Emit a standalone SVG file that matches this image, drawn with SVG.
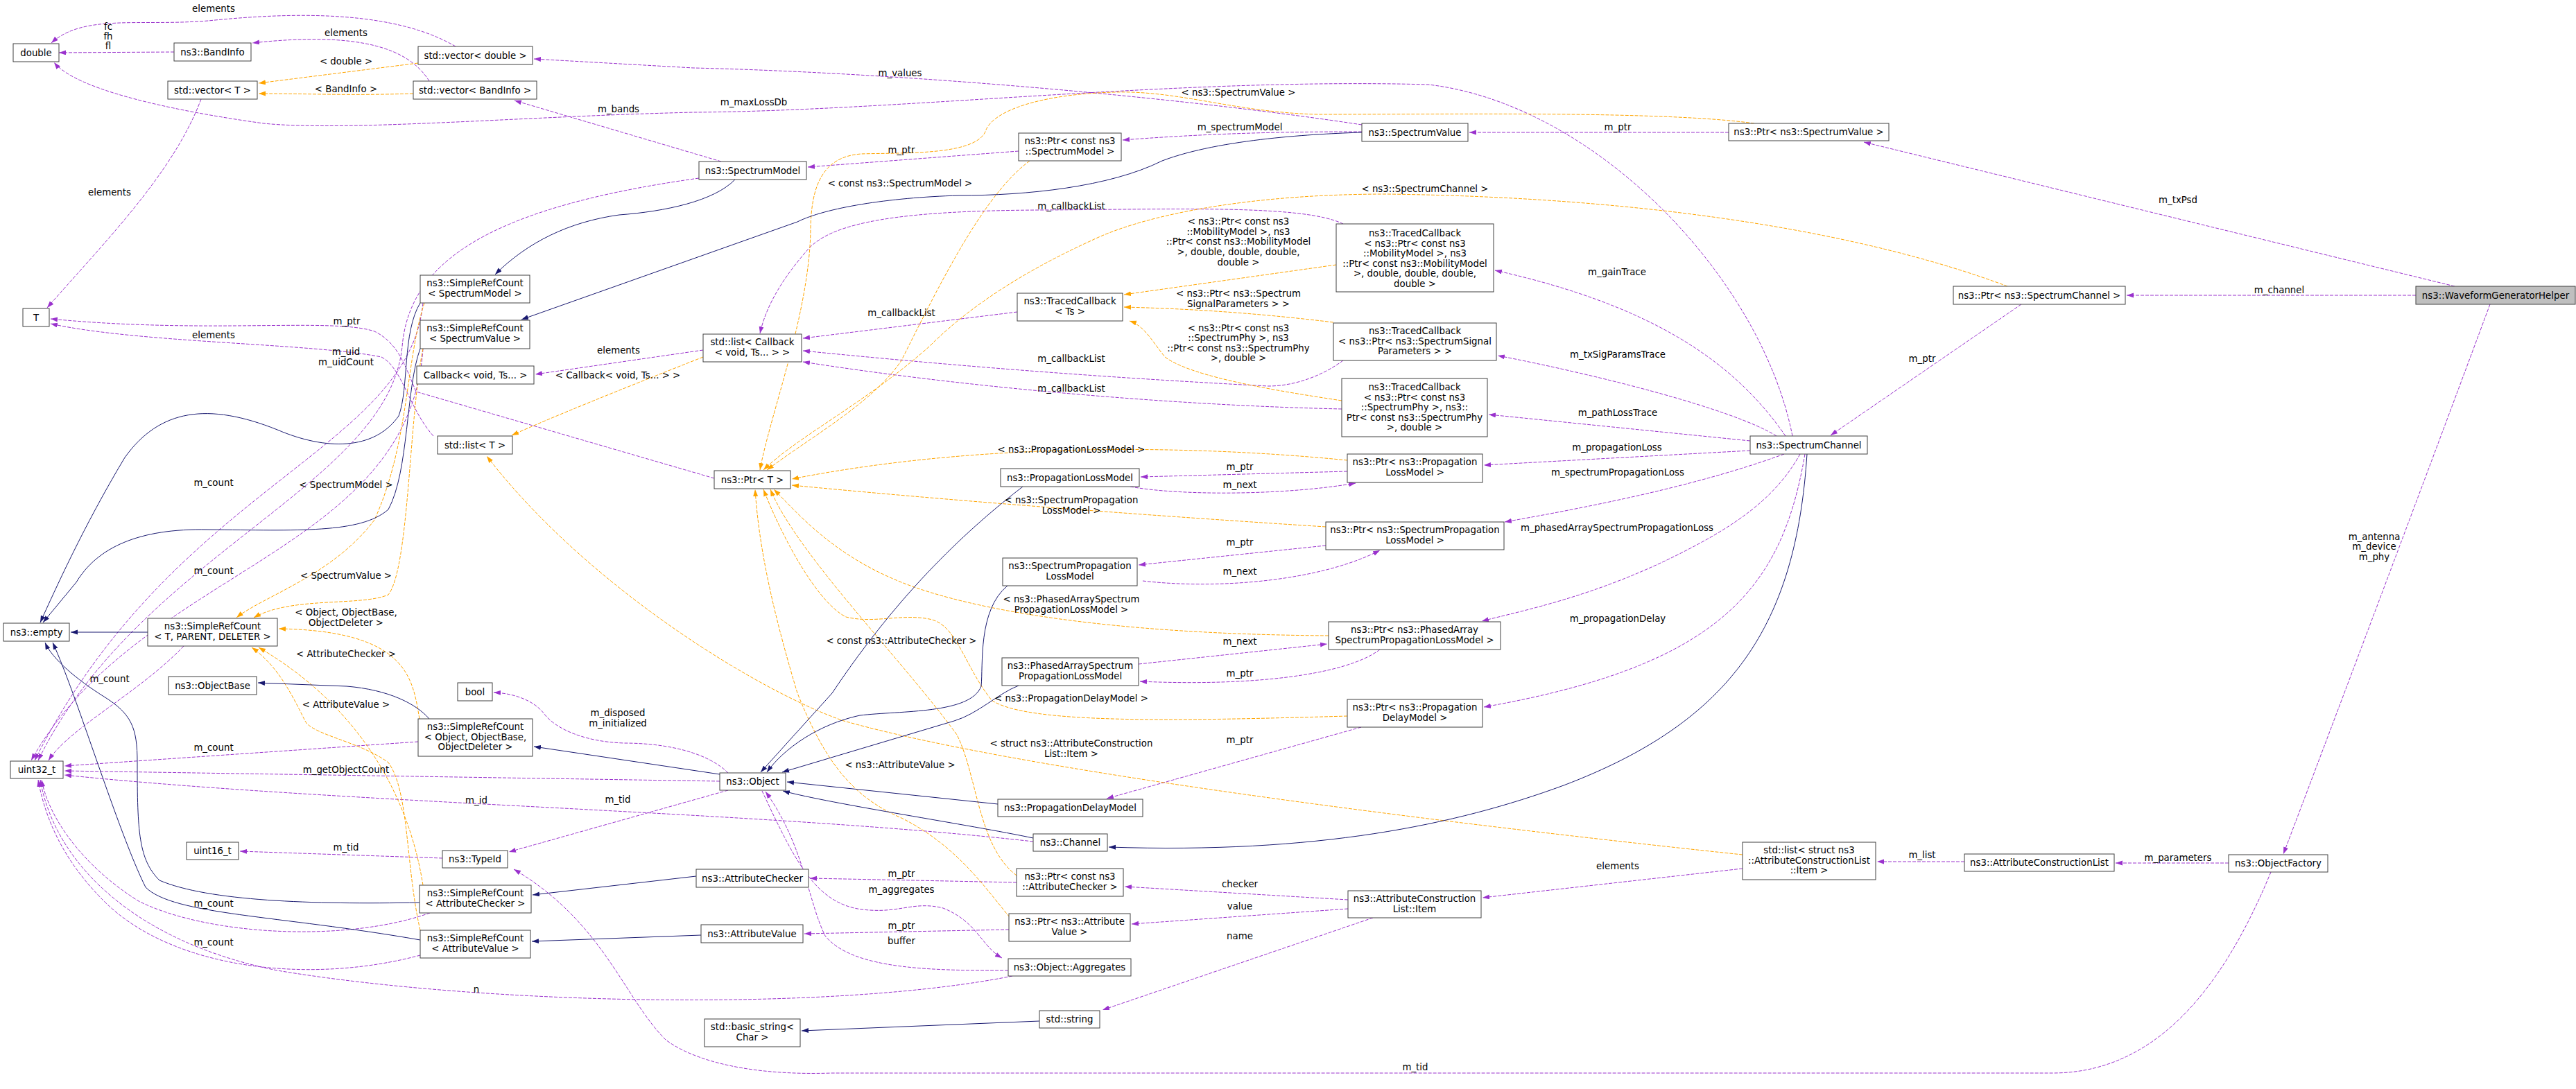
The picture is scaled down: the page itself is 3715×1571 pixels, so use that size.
<svg xmlns="http://www.w3.org/2000/svg" width="3715" height="1571" viewBox="0 0 3715 1571">
<style>
text{font-family:"DejaVu Sans","Liberation Sans",sans-serif;font-size:13.33px;fill:#000;text-anchor:middle}
.node rect{fill:#fff;stroke:#404040;stroke-width:1}
.p{fill:none;stroke:#9a32cd;stroke-dasharray:5,2;marker-end:url(#ap)}
.o{fill:none;stroke:#ffa500;stroke-dasharray:5,2;marker-end:url(#ao)}
.b{fill:none;stroke:#191970;marker-end:url(#ab)}
</style>
<defs>
<marker id="ap" markerUnits="userSpaceOnUse" markerWidth="11" markerHeight="8" refX="10" refY="3.5" orient="auto"><path d="M0,0L10,3.5L0,7z" fill="#9a32cd"/></marker>
<marker id="ao" markerUnits="userSpaceOnUse" markerWidth="11" markerHeight="8" refX="10" refY="3.5" orient="auto"><path d="M0,0L10,3.5L0,7z" fill="#ffa500"/></marker>
<marker id="ab" markerUnits="userSpaceOnUse" markerWidth="11" markerHeight="8" refX="10" refY="3.5" orient="auto"><path d="M0,0L10,3.5L0,7z" fill="#191970"/></marker>
</defs>
<rect width="3715" height="1571" fill="#fff"/>
<g id="connectors">
<path class="p" d="M251,75L85,76"/>
<path class="p" d="M657,67C560,10 400,20 300,30C200,38 120,20 74,62"/>
<path class="p" d="M2585,629C2540,400 2300,150 2060,122C1700,112 1300,160 1000,162C750,168 500,190 380,178C250,160 110,130 78,90"/>
<path class="p" d="M1964,180C1700,140 1300,105 1000,98L770,85"/>
<path class="p" d="M619,117C590,70 520,45 364,62"/>
<path class="p" d="M1040,233L742,145"/>
<path class="p" d="M290,143C250,250 150,350 68,444"/>
<path class="p" d="M1030,690L600,565C585,530 575,495 540,478C480,458 300,482 73,460"/>
<path class="p" d="M625,629C590,590 580,530 550,515C450,495 200,495 73,467"/>
<path class="p" d="M1008,257C700,300 590,380 580,500C560,700 200,800 55,1097"/>
<path class="p" d="M1014,505L772,540"/>
<path class="p" d="M610,437C590,650 250,700 50,1097"/>
<path class="p" d="M610,503C590,800 200,820 45,1097"/>
<path class="p" d="M265,932C200,1000 100,1050 70,1097"/>
<path class="p" d="M603,1070L93,1105"/>
<path class="p" d="M1038,1127L93,1112"/>
<path class="p" d="M1490,1214C1100,1170 500,1160 93,1118"/>
<path class="p" d="M1050,1140L734,1229"/>
<path class="p" d="M638,1238L346,1228"/>
<path class="p" d="M620,1317C500,1360 300,1350 200,1300C120,1250 70,1180 60,1125"/>
<path class="p" d="M606,1378C450,1420 250,1400 150,1300C90,1240 65,1180 55,1125"/>
<path class="p" d="M1460,1408C1200,1460 700,1450 400,1400C200,1360 80,1250 58,1125"/>
<path class="p" d="M1050,1115C1020,1085 960,1072 900,1072C840,1070 800,1050 785,1030C770,1010 740,1000 712,999"/>
<path class="p" d="M3275,1258C3200,1440 3100,1548 2960,1548L1200,1548C1080,1552 1000,1530 960,1500C900,1440 870,1330 741,1254"/>
<path class="p" d="M1937,323C1880,295 1700,302 1500,303C1300,304 1200,320 1165,360C1130,400 1105,440 1096,481"/>
<path class="p" d="M1467,450L1158,488"/>
<path class="p" d="M1937,520C1910,540 1870,557 1829,557C1600,545 1400,530 1158,506"/>
<path class="p" d="M1935,590C1700,585 1400,560 1158,522"/>
<path class="p" d="M1469,218L1165,241"/>
<path class="p" d="M1964,190C1850,190 1750,192 1619,202"/>
<path class="p" d="M2493,191L2119,191"/>
<path class="p" d="M2575,629C2500,520 2380,440 2156,390"/>
<path class="p" d="M2562,629C2500,590 2300,540 2160,513"/>
<path class="p" d="M2524,636L2147,598"/>
<path class="p" d="M2524,650L2140,671"/>
<path class="p" d="M2573,655C2450,700 2300,730 2170,753"/>
<path class="p" d="M2596,655C2560,720 2500,760 2420,800C2300,860 2200,880 2137,896"/>
<path class="p" d="M2603,655C2570,850 2480,960 2140,1020"/>
<path class="p" d="M2915,439L2640,628"/>
<path class="p" d="M3540,413L2688,205"/>
<path class="p" d="M3484,426L3067,426"/>
<path class="p" d="M3591,439C3520,630 3400,950 3293,1232"/>
<path class="p" d="M3214,1245L3051,1245"/>
<path class="p" d="M2833,1243L2707,1243"/>
<path class="p" d="M2513,1253L2138,1295"/>
<path class="p" d="M1944,1298L1622,1279"/>
<path class="p" d="M1944,1311L1632,1333"/>
<path class="p" d="M1980,1324L1590,1457"/>
<path class="p" d="M1943,680L1645,688"/>
<path class="p" d="M1630,702C1700,715 1850,715 1955,697"/>
<path class="p" d="M1912,787L1642,815"/>
<path class="p" d="M1648,838C1750,850 1900,840 1990,794"/>
<path class="p" d="M1642,958L1914,929"/>
<path class="p" d="M1990,937C1940,975 1800,990 1644,983"/>
<path class="p" d="M1963,1049L1596,1152"/>
<path class="p" d="M1466,1273L1168,1267"/>
<path class="p" d="M1455,1341L1160,1347"/>
<path class="p" d="M1099,1141C1150,1250 1180,1310 1255,1313C1300,1316 1320,1300 1360,1310C1410,1330 1415,1365 1445,1382"/>
<path class="p" d="M1454,1400C1350,1400 1230,1400 1190,1350C1165,1300 1160,1220 1104,1142"/>
<path class="o" d="M603,91L373,120"/>
<path class="o" d="M596,135C500,138 450,135 373,135"/>
<path class="o" d="M1014,515C900,560 800,600 738,628"/>
<path class="o" d="M2513,1233C2200,1200 1500,1120 1217,1040C1100,1000 850,850 702,658"/>
<path class="o" d="M612,437C585,520 590,640 540,750C480,830 380,860 341,891"/>
<path class="o" d="M610,503C590,600 590,820 560,858C520,875 420,860 366,891"/>
<path class="o" d="M605,1037C595,980 590,910 402,907"/>
<path class="o" d="M610,1277C590,1150 520,1020 373,934"/>
<path class="o" d="M606,1342C585,1250 590,1140 560,1100C520,1070 450,1060 440,1040C420,1000 400,960 363,934"/>
<path class="o" d="M1927,382L1621,425"/>
<path class="o" d="M1923,465C1800,450 1700,445 1621,443"/>
<path class="o" d="M1935,578C1850,565 1720,545 1680,515C1660,490 1650,470 1629,463"/>
<path class="o" d="M2530,178C2400,160 2100,165 1900,165C1780,162 1700,130 1606,133C1500,136 1430,160 1421,190C1405,225 1300,220 1242,222C1185,226 1170,270 1169,330C1168,450 1110,600 1096,678"/>
<path class="o" d="M1485,232C1420,280 1360,400 1300,520C1260,580 1170,630 1106,678"/>
<path class="o" d="M2895,413C2700,340 2400,285 2000,280C1800,280 1650,310 1574,347C1480,390 1400,440 1340,500C1250,580 1150,630 1101,678"/>
<path class="o" d="M1943,664C1700,640 1400,640 1142,691"/>
<path class="o" d="M1912,760C1600,740 1350,720 1142,700"/>
<path class="o" d="M1916,917C1600,915 1400,880 1300,840C1200,800 1150,740 1116,706"/>
<path class="o" d="M1943,1033C1700,1040 1480,1045 1430,1010C1390,960 1380,900 1340,893C1300,885 1260,900 1220,890C1180,870 1130,780 1101,706"/>
<path class="o" d="M1466,1263C1410,1220 1410,1120 1380,1060C1300,950 1150,800 1111,706"/>
<path class="o" d="M1456,1323C1420,1280 1380,1220 1300,1180C1230,1150 1190,1100 1150,1000C1120,900 1095,800 1089,706"/>
<path class="b" d="M1060,259C1030,290 960,305 893,310C820,320 760,350 714,396"/>
<path class="b" d="M1964,191C1900,193 1760,200 1676,232C1600,270 1480,282 1383,282C1280,285 1190,300 1150,320L752,461"/>
<path class="b" d="M606,437C580,480 590,560 575,600C540,650 470,650 400,620C300,580 230,590 180,660C120,760 80,850 58,898"/>
<path class="b" d="M606,503C585,560 590,680 560,735C520,770 430,765 300,764C200,762 140,790 110,840L62,898"/>
<path class="b" d="M213,912L102,912"/>
<path class="b" d="M605,1302C450,1305 300,1300 230,1270C200,1240 198,1200 198,1100C198,1050 190,1030 150,1005C110,980 75,950 65,927"/>
<path class="b" d="M606,1356C400,1320 250,1320 210,1280C170,1200 110,1000 76,927"/>
<path class="b" d="M619,1037C600,1015 560,995 500,990L372,985"/>
<path class="b" d="M1038,1117L770,1077"/>
<path class="b" d="M1004,1264L768,1291"/>
<path class="b" d="M1011,1349L767,1358"/>
<path class="b" d="M1475,702C1400,760 1300,850 1200,1000L1097,1114"/>
<path class="b" d="M1453,845C1410,880 1418,960 1415,990C1400,1030 1300,1025 1240,1032C1180,1045 1130,1080 1106,1114"/>
<path class="b" d="M1469,989C1440,1000 1410,1030 1376,1040L1128,1114"/>
<path class="b" d="M1439,1160L1135,1128"/>
<path class="b" d="M1490,1209C1400,1190 1200,1160 1129,1141"/>
<path class="b" d="M2606,655C2590,900 2500,1040 2255,1133C2100,1190 1900,1232 1599,1222"/>
<path class="b" d="M1499,1473L1156,1487"/>
<g id="labels">
<text x="156" y="43">fc</text><text x="156" y="57">fh</text><text x="156" y="71">fl</text>
<text x="308" y="17">elements</text>
<text x="499" y="52">elements</text>
<text x="499" y="93">&lt; double &gt;</text>
<text x="499" y="133">&lt; BandInfo &gt;</text>
<text x="892" y="162">m_bands</text>
<text x="1087" y="152">m_maxLossDb</text>
<text x="1298" y="110">m_values</text>
<text x="158" y="282">elements</text>
<text x="500" y="468">m_ptr</text>
<text x="308" y="488">elements</text>
<text x="499" y="512">m_uid</text><text x="499" y="527">m_uidCount</text>
<text x="892" y="510">elements</text>
<text x="891" y="546">&lt; Callback&lt; void, Ts... &gt; &gt;</text>
<text x="308" y="701">m_count</text>
<text x="499" y="704">&lt; SpectrumModel &gt;</text>
<text x="308" y="828">m_count</text>
<text x="499" y="835">&lt; SpectrumValue &gt;</text>
<text x="499" y="888">&lt; Object, ObjectBase,</text><text x="499" y="903">ObjectDeleter &gt;</text>
<text x="499" y="948">&lt; AttributeChecker &gt;</text>
<text x="158" y="984">m_count</text>
<text x="499" y="1021">&lt; AttributeValue &gt;</text>
<text x="891" y="1033">m_disposed</text><text x="891" y="1048">m_initialized</text>
<text x="308" y="1083">m_count</text>
<text x="499" y="1115">m_getObjectCount</text>
<text x="687" y="1159">m_id</text>
<text x="891" y="1158">m_tid</text>
<text x="499" y="1227">m_tid</text>
<text x="308" y="1308">m_count</text>
<text x="308" y="1364">m_count</text>
<text x="687" y="1432">n</text>
<text x="1786" y="138">&lt; ns3::SpectrumValue &gt;</text>
<text x="1788" y="188">m_spectrumModel</text>
<text x="1300" y="221">m_ptr</text>
<text x="1298" y="269">&lt; const ns3::SpectrumModel &gt;</text>
<text x="1545" y="302">m_callbackList</text>
<text x="2055" y="277">&lt; ns3::SpectrumChannel &gt;</text>
<text x="1786" y="324">&lt; ns3::Ptr&lt; const ns3</text><text x="1786" y="339">::MobilityModel &gt;, ns3</text><text x="1786" y="353">::Ptr&lt; const ns3::MobilityModel</text><text x="1786" y="368">&gt;, double, double, double,</text><text x="1786" y="383">double &gt;</text>
<text x="1786" y="428">&lt; ns3::Ptr&lt; ns3::Spectrum</text><text x="1786" y="443">SignalParameters &gt; &gt;</text>
<text x="1786" y="478">&lt; ns3::Ptr&lt; const ns3</text><text x="1786" y="492">::SpectrumPhy &gt;, ns3</text><text x="1786" y="507">::Ptr&lt; const ns3::SpectrumPhy</text><text x="1786" y="521">&gt;, double &gt;</text>
<text x="1300" y="456">m_callbackList</text>
<text x="1545" y="522">m_callbackList</text>
<text x="1545" y="565">m_callbackList</text>
<text x="1545" y="653">&lt; ns3::PropagationLossModel &gt;</text>
<text x="1788" y="678">m_ptr</text>
<text x="1788" y="704">m_next</text>
<text x="1545" y="726">&lt; ns3::SpectrumPropagation</text><text x="1545" y="741">LossModel &gt;</text>
<text x="1788" y="787">m_ptr</text>
<text x="1788" y="829">m_next</text>
<text x="1545" y="869">&lt; ns3::PhasedArraySpectrum</text><text x="1545" y="884">PropagationLossModel &gt;</text>
<text x="1788" y="930">m_next</text>
<text x="1788" y="976">m_ptr</text>
<text x="1300" y="929">&lt; const ns3::AttributeChecker &gt;</text>
<text x="1545" y="1012">&lt; ns3::PropagationDelayModel &gt;</text>
<text x="1298" y="1108">&lt; ns3::AttributeValue &gt;</text>
<text x="1545" y="1077">&lt; struct ns3::AttributeConstruction</text><text x="1545" y="1092">List::Item &gt;</text>
<text x="1788" y="1072">m_ptr</text>
<text x="1300" y="1265">m_ptr</text>
<text x="1300" y="1288">m_aggregates</text>
<text x="1300" y="1340">m_ptr</text>
<text x="1300" y="1362">buffer</text>
<text x="1788" y="1280">checker</text>
<text x="1788" y="1312">value</text>
<text x="1788" y="1355">name</text>
<text x="2333" y="188">m_ptr</text>
<text x="2332" y="397">m_gainTrace</text>
<text x="2333" y="516">m_txSigParamsTrace</text>
<text x="2772" y="522">m_ptr</text>
<text x="2333" y="600">m_pathLossTrace</text>
<text x="2332" y="650">m_propagationLoss</text>
<text x="2333" y="686">m_spectrumPropagationLoss</text>
<text x="2332" y="766">m_phasedArraySpectrumPropagationLoss</text>
<text x="2333" y="897">m_propagationDelay</text>
<text x="3141" y="293">m_txPsd</text>
<text x="3287" y="423">m_channel</text>
<text x="3424" y="779">m_antenna</text><text x="3424" y="793">m_device</text><text x="3424" y="808">m_phy</text>
<text x="3141" y="1242">m_parameters</text>
<text x="2772" y="1238">m_list</text>
<text x="2333" y="1254">elements</text>
<text x="2041" y="1544">m_tid</text>
</g>
</g>
<g id="n_double" class="node"><rect x="19" y="63" width="66" height="26"/><text x="52" y="80.5">double</text></g>
<g id="n_bandinfo" class="node"><rect x="251" y="62" width="111" height="26"/><text x="306.5" y="79.5">ns3::BandInfo</text></g>
<g id="n_vecdouble" class="node"><rect x="603" y="67" width="165" height="26"/><text x="685.5" y="84.5">std::vector&lt; double &gt;</text></g>
<g id="n_vect" class="node"><rect x="242" y="117" width="129" height="26"/><text x="306.5" y="134.5">std::vector&lt; T &gt;</text></g>
<g id="n_vecband" class="node"><rect x="596" y="117" width="178" height="26"/><text x="685" y="134.5">std::vector&lt; BandInfo &gt;</text></g>
<g id="n_t" class="node"><rect x="33" y="445" width="38" height="26"/><text x="52" y="462.5">T</text></g>
<g id="n_srcsm" class="node"><rect x="606" y="397" width="158" height="40"/><text x="685" y="413">ns3::SimpleRefCount</text><text x="685" y="428">&lt; SpectrumModel &gt;</text></g>
<g id="n_srcsv" class="node"><rect x="606" y="462" width="158" height="41"/><text x="685" y="478">ns3::SimpleRefCount</text><text x="685" y="493">&lt; SpectrumValue &gt;</text></g>
<g id="n_callback" class="node"><rect x="601" y="528" width="169" height="26"/><text x="685.5" y="545.5">Callback&lt; void, Ts... &gt;</text></g>
<g id="n_listt" class="node"><rect x="631" y="629" width="108" height="26"/><text x="685" y="646.5">std::list&lt; T &gt;</text></g>
<g id="n_empty" class="node"><rect x="5" y="899" width="95" height="26"/><text x="52.5" y="916.5">ns3::empty</text></g>
<g id="n_srctpd" class="node"><rect x="213" y="892" width="187" height="40"/><text x="306.5" y="908">ns3::SimpleRefCount</text><text x="306.5" y="923">&lt; T, PARENT, DELETER &gt;</text></g>
<g id="n_objectbase" class="node"><rect x="243" y="976" width="127" height="26"/><text x="306.5" y="993.5">ns3::ObjectBase</text></g>
<g id="n_bool" class="node"><rect x="660" y="985" width="50" height="26"/><text x="685" y="1002.5">bool</text></g>
<g id="n_srcobj" class="node"><rect x="603" y="1037" width="165" height="54"/><text x="685.5" y="1053">ns3::SimpleRefCount</text><text x="685.5" y="1068">&lt; Object, ObjectBase,</text><text x="685.5" y="1082">ObjectDeleter &gt;</text></g>
<g id="n_uint32" class="node"><rect x="15" y="1098" width="76" height="25"/><text x="53" y="1115">uint32_t</text></g>
<g id="n_uint16" class="node"><rect x="269" y="1215" width="75" height="25"/><text x="306.5" y="1232">uint16_t</text></g>
<g id="n_typeid" class="node"><rect x="638" y="1227" width="94" height="25"/><text x="685" y="1244">ns3::TypeId</text></g>
<g id="n_srcac" class="node"><rect x="605" y="1277" width="161" height="40"/><text x="685.5" y="1293">ns3::SimpleRefCount</text><text x="685.5" y="1308">&lt; AttributeChecker &gt;</text></g>
<g id="n_srcav" class="node"><rect x="606" y="1342" width="159" height="40"/><text x="685.5" y="1358">ns3::SimpleRefCount</text><text x="685.5" y="1373">&lt; AttributeValue &gt;</text></g>
<g id="n_sm" class="node"><rect x="1008" y="233" width="155" height="26"/><text x="1085.5" y="250.5">ns3::SpectrumModel</text></g>
<g id="n_ptrconstsm" class="node"><rect x="1469" y="192" width="148" height="40"/><text x="1543" y="208">ns3::Ptr&lt; const ns3</text><text x="1543" y="223">::SpectrumModel &gt;</text></g>
<g id="n_sv" class="node"><rect x="1964" y="178" width="153" height="26"/><text x="2040.5" y="195.5">ns3::SpectrumValue</text></g>
<g id="n_tcmob" class="node"><rect x="1927" y="323" width="227" height="98"/><text x="2040.5" y="341">ns3::TracedCallback</text><text x="2040.5" y="355.5">&lt; ns3::Ptr&lt; const ns3</text><text x="2040.5" y="370">::MobilityModel &gt;, ns3</text><text x="2040.5" y="384.5">::Ptr&lt; const ns3::MobilityModel</text><text x="2040.5" y="399">&gt;, double, double, double,</text><text x="2040.5" y="413.5">double &gt;</text></g>
<g id="n_tcts" class="node"><rect x="1467" y="423" width="152" height="40"/><text x="1543" y="439">ns3::TracedCallback</text><text x="1543" y="454">&lt; Ts &gt;</text></g>
<g id="n_tcsig" class="node"><rect x="1923" y="466" width="235" height="54"/><text x="2040.5" y="482">ns3::TracedCallback</text><text x="2040.5" y="497">&lt; ns3::Ptr&lt; ns3::SpectrumSignal</text><text x="2040.5" y="511">Parameters &gt; &gt;</text></g>
<g id="n_listcb" class="node"><rect x="1014" y="482" width="142" height="40"/><text x="1085" y="498">std::list&lt; Callback</text><text x="1085" y="513">&lt; void, Ts... &gt; &gt;</text></g>
<g id="n_tcphy" class="node"><rect x="1935" y="546" width="210" height="84"/><text x="2040" y="563">ns3::TracedCallback</text><text x="2040" y="577.5">&lt; ns3::Ptr&lt; const ns3</text><text x="2040" y="592">::SpectrumPhy &gt;, ns3::</text><text x="2040" y="606.5">Ptr&lt; const ns3::SpectrumPhy</text><text x="2040" y="621">&gt;, double &gt;</text></g>
<g id="n_ptrt" class="node"><rect x="1030" y="679" width="110" height="26"/><text x="1085" y="696.5">ns3::Ptr&lt; T &gt;</text></g>
<g id="n_plm" class="node"><rect x="1443" y="676" width="200" height="26"/><text x="1543" y="693.5">ns3::PropagationLossModel</text></g>
<g id="n_ptrplm" class="node"><rect x="1943" y="655" width="195" height="41"/><text x="2040.5" y="671">ns3::Ptr&lt; ns3::Propagation</text><text x="2040.5" y="686">LossModel &gt;</text></g>
<g id="n_splm" class="node"><rect x="1446" y="805" width="194" height="40"/><text x="1543" y="821">ns3::SpectrumPropagation</text><text x="1543" y="836">LossModel</text></g>
<g id="n_ptrsplm" class="node"><rect x="1912" y="753" width="257" height="40"/><text x="2040.5" y="769">ns3::Ptr&lt; ns3::SpectrumPropagation</text><text x="2040.5" y="784">LossModel &gt;</text></g>
<g id="n_ptrpasplm" class="node"><rect x="1916" y="897" width="248" height="40"/><text x="2040" y="913">ns3::Ptr&lt; ns3::PhasedArray</text><text x="2040" y="928">SpectrumPropagationLossModel &gt;</text></g>
<g id="n_pasplm" class="node"><rect x="1445" y="949" width="197" height="40"/><text x="1543.5" y="965">ns3::PhasedArraySpectrum</text><text x="1543.5" y="980">PropagationLossModel</text></g>
<g id="n_ptrpdm" class="node"><rect x="1943" y="1009" width="195" height="40"/><text x="2040.5" y="1025">ns3::Ptr&lt; ns3::Propagation</text><text x="2040.5" y="1040">DelayModel &gt;</text></g>
<g id="n_object" class="node"><rect x="1038" y="1115" width="95" height="25"/><text x="1085.5" y="1132">ns3::Object</text></g>
<g id="n_pdm" class="node"><rect x="1439" y="1153" width="209" height="25"/><text x="1543.5" y="1170">ns3::PropagationDelayModel</text></g>
<g id="n_channel" class="node"><rect x="1490" y="1203" width="107" height="25"/><text x="1543.5" y="1220">ns3::Channel</text></g>
<g id="n_ac" class="node"><rect x="1004" y="1254" width="162" height="26"/><text x="1085" y="1271.5">ns3::AttributeChecker</text></g>
<g id="n_ptrconstac" class="node"><rect x="1466" y="1253" width="154" height="40"/><text x="1543" y="1269">ns3::Ptr&lt; const ns3</text><text x="1543" y="1284">::AttributeChecker &gt;</text></g>
<g id="n_av" class="node"><rect x="1011" y="1334" width="147" height="26"/><text x="1084.5" y="1351.5">ns3::AttributeValue</text></g>
<g id="n_ptrav" class="node"><rect x="1455" y="1318" width="175" height="40"/><text x="1542.5" y="1334">ns3::Ptr&lt; ns3::Attribute</text><text x="1542.5" y="1349">Value &gt;</text></g>
<g id="n_aggregates" class="node"><rect x="1454" y="1383" width="177" height="25"/><text x="1542.5" y="1400">ns3::Object::Aggregates</text></g>
<g id="n_basicstring" class="node"><rect x="1016" y="1470" width="138" height="40"/><text x="1085" y="1486">std::basic_string&lt;</text><text x="1085" y="1501">Char &gt;</text></g>
<g id="n_string" class="node"><rect x="1499" y="1458" width="87" height="25"/><text x="1542.5" y="1475">std::string</text></g>
<g id="n_item" class="node"><rect x="1944" y="1285" width="192" height="39"/><text x="2040" y="1300.5">ns3::AttributeConstruction</text><text x="2040" y="1315.5">List::Item</text></g>
<g id="n_ptrsv" class="node"><rect x="2493" y="178" width="231" height="25"/><text x="2608.5" y="195">ns3::Ptr&lt; ns3::SpectrumValue &gt;</text></g>
<g id="n_ptrsc" class="node"><rect x="2817" y="413" width="248" height="26"/><text x="2941" y="430.5">ns3::Ptr&lt; ns3::SpectrumChannel &gt;</text></g>
<g id="n_sc" class="node"><rect x="2524" y="629" width="169" height="26"/><text x="2608.5" y="646.5">ns3::SpectrumChannel</text></g>
<g id="n_listitem" class="node"><rect x="2513" y="1215" width="192" height="54"/><text x="2609" y="1231">std::list&lt; struct ns3</text><text x="2609" y="1246">::AttributeConstructionList</text><text x="2609" y="1260">::Item &gt;</text></g>
<g id="n_acl" class="node"><rect x="2833" y="1232" width="216" height="25"/><text x="2941" y="1249">ns3::AttributeConstructionList</text></g>
<g id="n_objectfactory" class="node"><rect x="3214" y="1233" width="143" height="25"/><text x="3285.5" y="1250">ns3::ObjectFactory</text></g>
<g id="n_wgh" class="node"><rect x="3484" y="413" width="230" height="26" style="fill:#bfbfbf"/><text x="3599" y="430.5">ns3::WaveformGeneratorHelper</text></g>
</svg>
